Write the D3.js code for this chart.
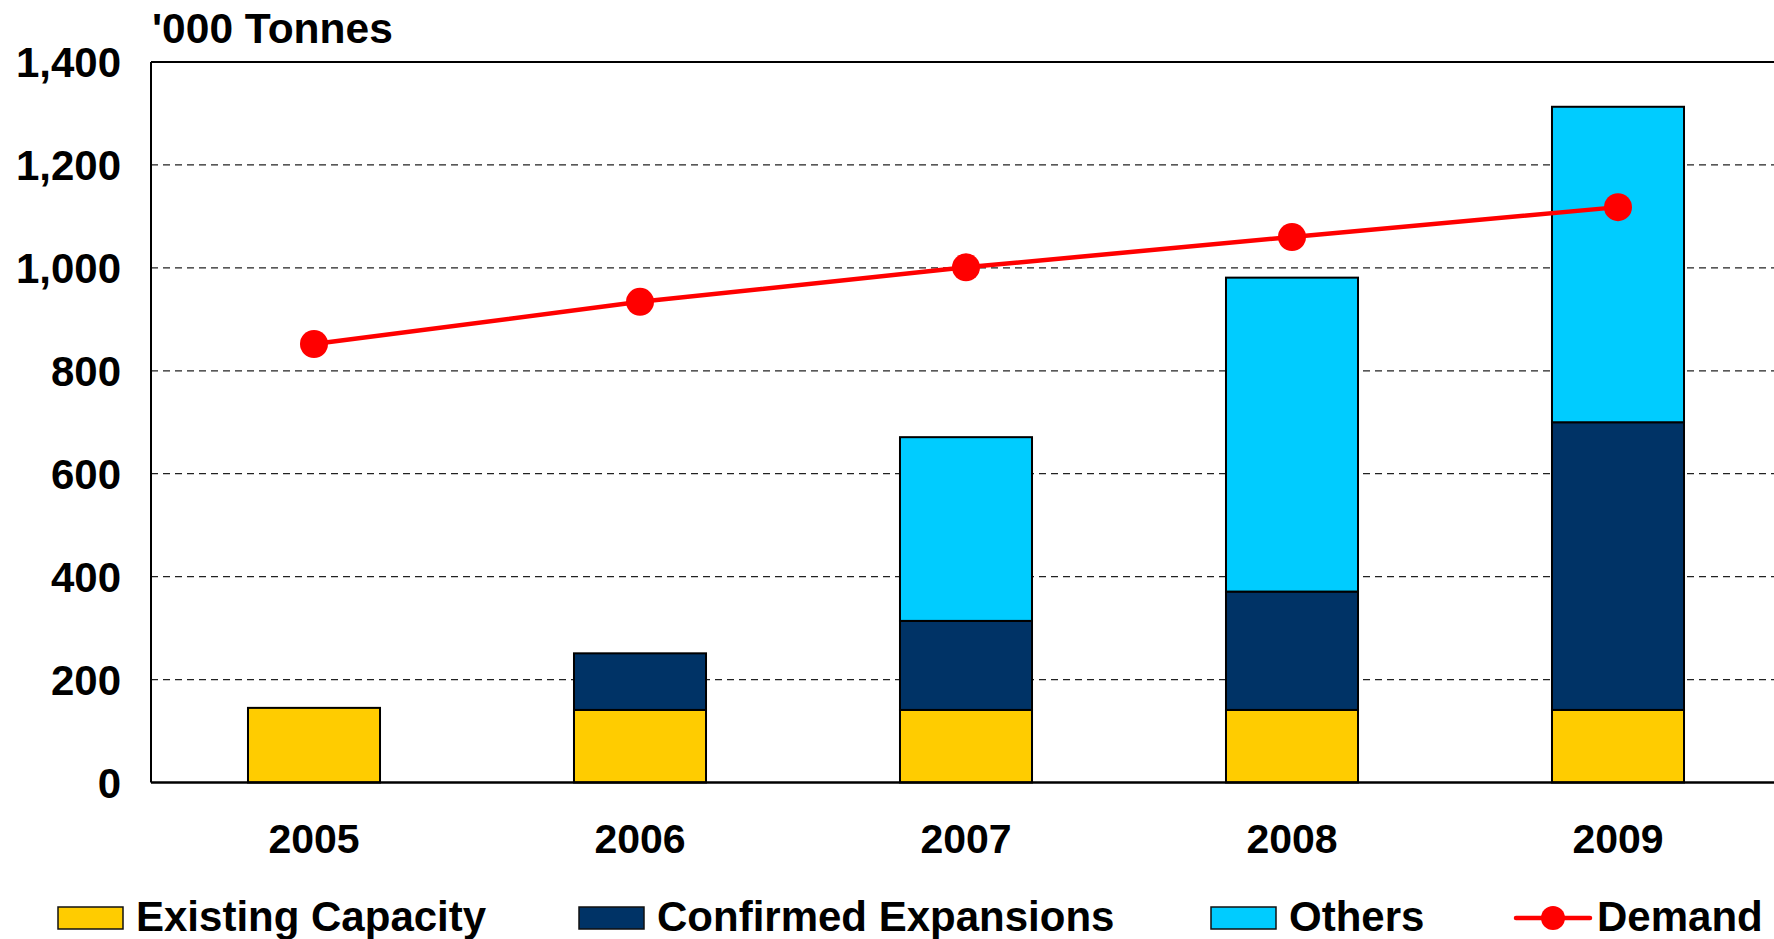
<!DOCTYPE html>
<html>
<head>
  <meta charset="utf-8">
  <title>Capacity vs Demand</title>
  <script src="https://d3js.org/d3.v7.min.js"></script>
  <style>
  body { margin: 0; background: #fff; }
  text { font-family: "Liberation Sans", Arial, sans-serif; font-weight: bold; fill: #000; }
  </style>
</head>
<body>
<div id="chart"></div>
<script>
// chart data, '000 tonnes
var years = ["2005", "2006", "2007", "2008", "2009"];
var existingCapacity = [145, 141, 141, 141, 141];
var confirmedExpansions = [0, 110, 173, 230, 559];
var others = [0, 0, 357, 610, 613];
var demand = [852, 934, 1001, 1060, 1118];
var yTicks = [0, 200, 400, 600, 800, 1000, 1200, 1400];
var seriesNames = ["Existing Capacity", "Confirmed Expansions", "Others"];
var seriesColors = ["#FFCC00", "#003366", "#00CCFF"];

var WIDTH = 1774, HEIGHT = 939;
var LEFT = 151, TOP = 62, BOTTOM = 782.5, RIGHT = 1781;

var svg = d3.select("#chart").append("svg")
  .attr("width", WIDTH)
  .attr("height", HEIGHT);

var x = d3.scaleBand()
  .domain(years)
  .range([LEFT, RIGHT])
  .paddingInner(0.595)
  .paddingOuter(0.2975);

var y = d3.scaleLinear()
  .domain([0, 1400])
  .range([BOTTOM, TOP]);

// gridlines
svg.append("g").selectAll("line")
  .data(yTicks.filter(function(t) { return t > 0 && t < 1400; }))
  .join("line")
  .attr("x1", LEFT).attr("x2", WIDTH)
  .attr("y1", function(d) { return y(d); })
  .attr("y2", function(d) { return y(d); })
  .attr("stroke", "#222")
  .attr("stroke-width", 1.3)
  .attr("stroke-dasharray", "7,5");

// stacked bars
var rows = years.map(function(yr, i) {
  return { year: yr, "Existing Capacity": existingCapacity[i],
           "Confirmed Expansions": confirmedExpansions[i], "Others": others[i] };
});
var stacked = d3.stack().keys(seriesNames)(rows);

svg.append("g").selectAll("g")
  .data(stacked)
  .join("g")
  .attr("fill", function(d, i) { return seriesColors[i]; })
  .selectAll("rect")
  .data(function(d) { return d.filter(function(p) { return p[1] - p[0] > 0; }); })
  .join("rect")
  .attr("x", function(d) { return x(d.data.year); })
  .attr("y", function(d) { return y(d[1]); })
  .attr("width", x.bandwidth())
  .attr("height", function(d) { return y(d[0]) - y(d[1]); })
  .attr("stroke", "#000")
  .attr("stroke-width", 2);

// frame: left, top and bottom axis lines
svg.append("line").attr("x1", LEFT).attr("x2", LEFT).attr("y1", TOP).attr("y2", BOTTOM)
  .attr("stroke", "#000").attr("stroke-width", 2);
svg.append("line").attr("x1", LEFT).attr("x2", WIDTH).attr("y1", TOP).attr("y2", TOP)
  .attr("stroke", "#000").attr("stroke-width", 2);
svg.append("line").attr("x1", LEFT).attr("x2", WIDTH).attr("y1", BOTTOM).attr("y2", BOTTOM)
  .attr("stroke", "#000").attr("stroke-width", 2.5);

// demand line
var line = d3.line()
  .x(function(d, i) { return x(years[i]) + x.bandwidth() / 2; })
  .y(function(d) { return y(d); });

svg.append("path")
  .datum(demand)
  .attr("d", line)
  .attr("fill", "none")
  .attr("stroke", "#FF0000")
  .attr("stroke-width", 4.5);

svg.append("g").selectAll("circle")
  .data(demand)
  .join("circle")
  .attr("cx", function(d, i) { return x(years[i]) + x.bandwidth() / 2; })
  .attr("cy", function(d) { return y(d); })
  .attr("r", 14)
  .attr("fill", "#FF0000");

// y axis labels
var fmt = d3.format(",");
svg.append("g").selectAll("text")
  .data(yTicks)
  .join("text")
  .attr("x", 121)
  .attr("y", function(d) { return y(d); })
  .attr("dy", "0.36em")
  .attr("text-anchor", "end")
  .style("font-size", "42px")
  .text(function(d) { return fmt(d); });

// x axis labels
svg.append("g").selectAll("text")
  .data(years)
  .join("text")
  .attr("x", function(d) { return x(d) + x.bandwidth() / 2; })
  .attr("y", 853)
  .attr("text-anchor", "middle")
  .style("font-size", "41px")
  .text(function(d) { return d; });

// unit title
svg.append("text")
  .attr("x", 152)
  .attr("y", 43)
  .style("font-size", "42.5px")
  .text("'000 Tonnes");

// legend
var legendX = [58, 579, 1211];
var lg = svg.append("g");
seriesNames.forEach(function(name, i) {
  lg.append("rect")
    .attr("x", legendX[i]).attr("y", 907)
    .attr("width", 65).attr("height", 22)
    .attr("fill", seriesColors[i])
    .attr("stroke", "#111").attr("stroke-width", 1.5);
  lg.append("text")
    .attr("x", legendX[i] + 78).attr("y", 931)
    .style("font-size", "42px")
    .text(name);
});
lg.append("line")
  .attr("x1", 1516).attr("x2", 1590).attr("y1", 918).attr("y2", 918)
  .attr("stroke", "#FF0000").attr("stroke-width", 4.5).attr("stroke-linecap", "round");
lg.append("circle").attr("cx", 1553).attr("cy", 918).attr("r", 12).attr("fill", "#FF0000");
lg.append("text")
  .attr("x", 1597).attr("y", 931)
  .style("font-size", "42px")
  .text("Demand");
</script>
</body>
</html>
